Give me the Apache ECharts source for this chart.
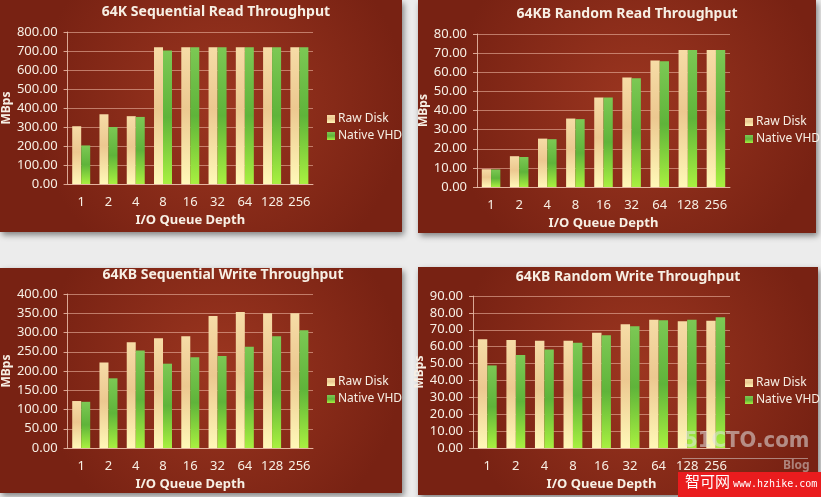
<!DOCTYPE html>
<html>
<head>
<meta charset="utf-8">
<script src="https://cdn.jsdelivr.net/npm/echarts@6/dist/echarts.min.js"></script>
<style>
html,body{margin:0;padding:0;background:#ececec;}
#chart{width:821px;height:497px;}
</style>
</head>
<body>
<div id="chart"></div>
<script>
const categories = ['1', '2', '4', '8', '16', '32', '64', '128', '256'];
const seriesNames = ['Raw Disk', 'Native VHD'];

const titles = ['64K Sequential Read Throughput', '64KB Random Read Throughput', '64KB Sequential Write Throughput', '64KB Random Write Throughput'];

const seqReadRaw = [304, 367, 357, 720, 720, 720, 720, 720, 720];
const seqReadVhd = [203, 300, 353, 703, 720, 720, 720, 720, 720];

const randReadRaw = [9.3, 16.1, 25.3, 35.8, 46.8, 57.3, 66.2, 71.6, 71.6];
const randReadVhd = [9.2, 15.7, 25.0, 35.5, 46.8, 56.8, 65.7, 71.6, 71.6];

const seqWriteRaw = [122, 222, 275, 285, 290, 343, 353, 350, 350];
const seqWriteVhd = [120, 181, 253, 219, 236, 239, 263, 290, 306];

const randWriteRaw = [64.4, 64.0, 63.5, 63.5, 68.2, 73.3, 76.0, 75.0, 75.4];
const randWriteVhd = [48.9, 55.0, 58.3, 62.3, 66.8, 72.1, 75.6, 76.0, 77.4];

const yMax = [800, 80, 400, 90];
const yStep = [100, 10, 50, 10];

const xTitle = 'I/O Queue Depth';
const yTitle = 'MBps';

const panelData = [
  [seqReadRaw, seqReadVhd],
  [randReadRaw, randReadVhd],
  [seqWriteRaw, seqWriteVhd],
  [randWriteRaw, randWriteVhd]
];

// layout
const panels = [
  {x: 0, y: 0, w: 402, h: 232},
  {x: 418, y: 0, w: 398, h: 233},
  {x: 0, y: 268, w: 402, h: 225},
  {x: 418, y: 267, w: 400, h: 228}
];
const grids = [
  {left: 67, top: 32, width: 246, height: 152},
  {left: 477, top: 34, width: 253, height: 153},
  {left: 67, top: 294, width: 246, height: 154},
  {left: 473, top: 296, width: 257, height: 152}
];
const yNameGap = [52, 45, 52, 41];
const titlePos = [[216, 5], [627, 7], [223, 268], [628, 270]];
const legendPos = [[327, 113], [745, 116], [327, 376], [745, 377]];

const font = 'Noto Sans';
const txt = '#f7efe4';

const rawColor = new echarts.graphic.LinearGradient(0, 0, 0, 1, [
  {offset: 0, color: '#f6dca6'},
  {offset: 0.45, color: '#ecc890'},
  {offset: 1, color: '#fff8b8'}
]);
const vhdColor = new echarts.graphic.LinearGradient(0, 0, 0, 1, [
  {offset: 0, color: '#7cc854'},
  {offset: 0.5, color: '#5fb43a'},
  {offset: 1, color: '#a8f040'}
]);

const graphic = [];
panels.forEach(p => {
  graphic.push({
    type: 'rect', z: -10,
    shape: {x: p.x, y: p.y, width: p.w, height: p.h},
    style: {
      fill: new echarts.graphic.RadialGradient(0.55, 0.45, 0.8, [
        {offset: 0, color: '#9c3620'},
        {offset: 1, color: '#782213'}
      ]),
      shadowBlur: 6, shadowColor: 'rgba(0,0,0,0.45)', shadowOffsetX: 2, shadowOffsetY: 3
    }
  });
});
// watermarks
graphic.push(
  {type: 'text', z: 50, left: 684, top: 430, style: {text: '51CTO.com', fontFamily: 'DejaVu Sans Condensed', fontWeight: 'bold', fontSize: 22, fill: 'rgba(225,225,225,0.55)'}},
  {type: 'rect', z: 50, shape: {x: 682, y: 458, width: 126, height: 1}, style: {fill: 'rgba(225,225,225,0.5)'}},
  {type: 'text', z: 50, left: 783, top: 460, style: {text: 'Blog', fontFamily: font, fontWeight: 'bold', fontSize: 12, fill: 'rgba(225,225,225,0.5)'}},
  {type: 'rect', z: 60, shape: {x: 678, y: 472, width: 143, height: 25}, style: {fill: '#ea1c1e'}},
  {type: 'text', z: 61, left: 685, top: 474, style: {text: '智可网', fontFamily: 'Noto Sans CJK SC', fontSize: 15, fill: '#ffffff'}},
  {type: 'text', z: 61, left: 733, top: 479, style: {text: 'www.hzhike.com', fontFamily: 'DejaVu Sans Mono', fontSize: 10, fill: '#ffffff'}}
);

const option = {
  backgroundColor: '#ececec',
  animation: false,
  title: titles.map((t, i) => ({
    text: t, left: titlePos[i][0], top: titlePos[i][1], textAlign: 'center', padding: 0,
    textStyle: {color: txt, fontFamily: font, fontWeight: 'bold', fontSize: 14}
  })),
  legend: legendPos.map((p, i) => ({
    data: seriesNames, orient: 'vertical', left: p[0], top: p[1], padding: 0,
    itemWidth: 8, itemHeight: 8, itemGap: 5, icon: 'rect',
    textStyle: {color: txt, fontFamily: font, fontSize: 12, padding: [0, 0, 0, -2]}
  })),
  grid: grids.map(g => Object.assign({containLabel: false}, g)),
  xAxis: grids.map((g, i) => ({
    type: 'category', gridIndex: i, data: categories,
    name: xTitle, nameLocation: 'middle', nameGap: 30,
    nameTextStyle: {color: txt, fontFamily: font, fontWeight: 'bold', fontSize: 13},
    axisLine: {lineStyle: {color: 'rgba(235,190,170,0.85)'}},
    axisTick: {show: false},
    axisLabel: {color: txt, fontFamily: font, fontSize: 13, margin: 12, interval: 0}
  })),
  yAxis: grids.map((g, i) => ({
    type: 'value', gridIndex: i, min: 0, max: yMax[i], interval: yStep[i],
    name: yTitle, nameLocation: 'middle', nameGap: yNameGap[i], nameRotate: 90,
    nameTextStyle: {color: txt, fontFamily: font, fontWeight: 'bold', fontSize: 12},
    axisLine: {show: true, lineStyle: {color: 'rgba(235,190,170,0.85)'}},
    axisTick: {show: true, length: 4, lineStyle: {color: 'rgba(235,190,170,0.85)'}},
    splitLine: {lineStyle: {color: 'rgba(235,180,160,0.6)'}},
    axisLabel: {color: txt, fontFamily: font, fontSize: 13, margin: 10, formatter: v => v.toFixed(2)}
  })),
  series: [],
  graphic: graphic
};

panelData.forEach((pair, i) => {
  pair.forEach((vals, j) => {
    option.series.push({
      type: 'bar', name: seriesNames[j], xAxisIndex: i, yAxisIndex: i,
      data: vals, barGap: '0%', barCategoryGap: '34%',
      itemStyle: {color: j === 0 ? rawColor : vhdColor}
    });
  });
});

const chart = echarts.init(document.getElementById('chart'), null, {renderer: 'canvas'});
chart.setOption(option);
</script>
</body>
</html>
